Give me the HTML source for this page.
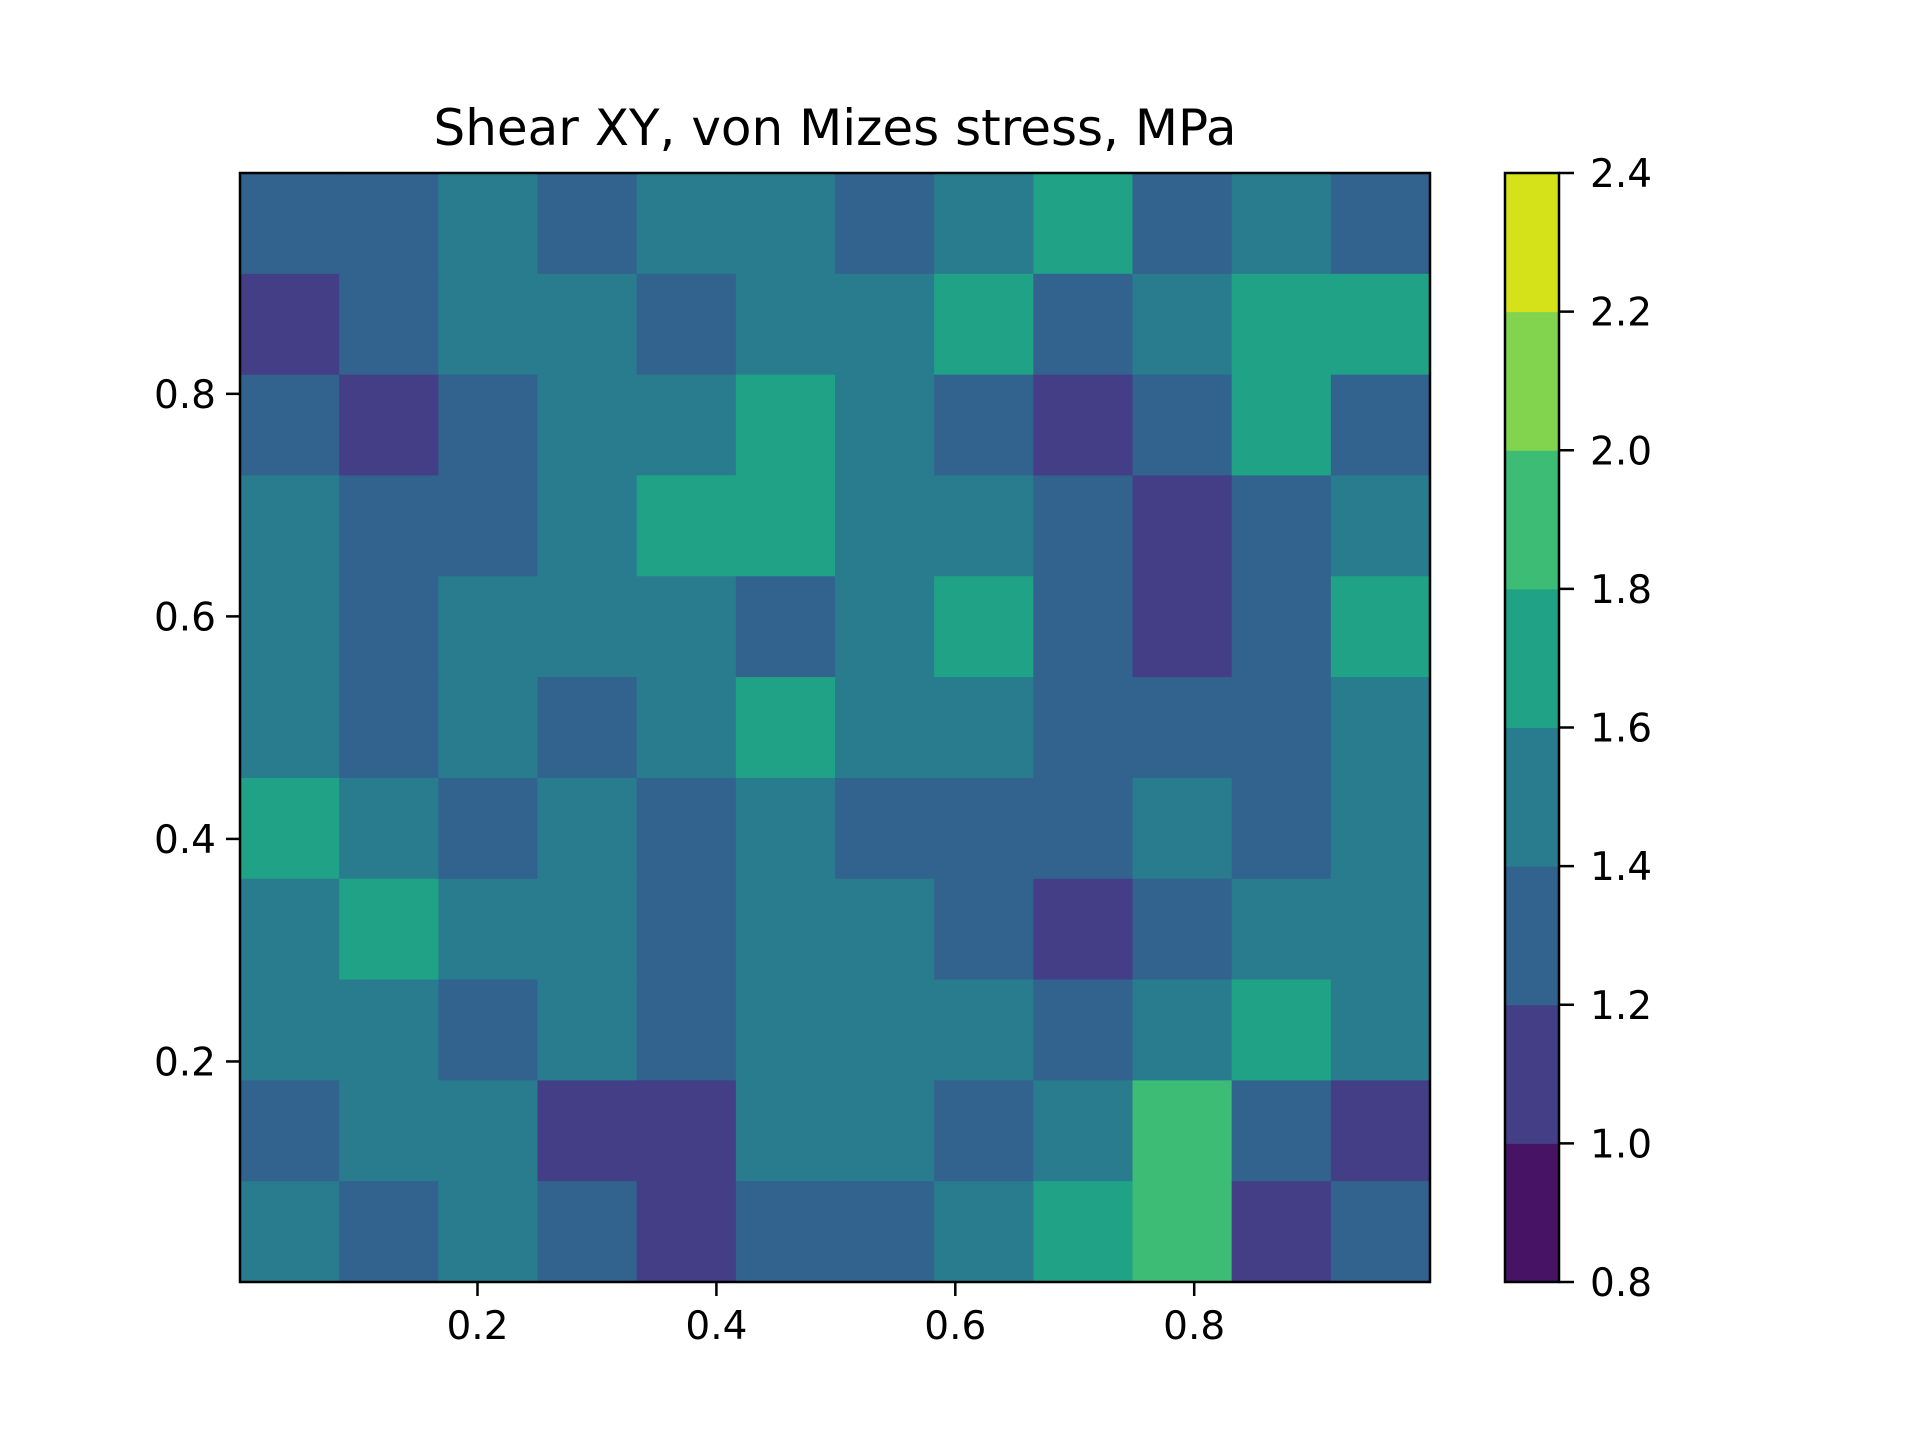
<!DOCTYPE html>
<html><head><meta charset="utf-8"><style>
body{margin:0;background:#fff;}
svg{display:block;font-family:"DejaVu Sans","Liberation Sans",sans-serif;}
</style></head><body>
<svg id="chart" width="1920" height="1440" viewBox="0 0 1920 1440" xmlns="http://www.w3.org/2000/svg">
<rect width="1920" height="1440" fill="#fff"/>
<text x="835" y="145" font-size="50" text-anchor="middle">Shear XY, von Mizes stress, MPa</text>
<g id="field"></g>
<rect x="240" y="173" width="1190" height="1109" fill="none" stroke="#000" stroke-width="2.5"/>
<g id="xticks"></g><g id="yticks"></g>
<g id="cbar"></g>
</svg>
<script>
const levels=[0.8,1.0,1.2,1.4,1.6,1.8,2.0,2.2,2.4];
const bandColors=["#471365","#433e85","#31638e","#287c8e","#20a286","#3cbc74","#82d34d","#d5e21a"];
const xTicks=[0.2,0.4,0.6,0.8];
const yTicks=[0.2,0.4,0.6,0.8];
const cbarTicks=["0.8","1.0","1.2","1.4","1.6","1.8","2.0","2.2","2.4"];
// field values (rows top->bottom, y from 1 to 0), stress in MPa
const fieldRows=[
[1.3,1.3,1.5,1.3,1.5,1.5,1.3,1.5,1.7,1.3,1.5,1.3],
[1.1,1.3,1.5,1.5,1.3,1.5,1.5,1.7,1.3,1.5,1.7,1.7],
[1.3,1.1,1.3,1.5,1.5,1.7,1.5,1.3,1.1,1.3,1.7,1.3],
[1.5,1.3,1.3,1.5,1.7,1.7,1.5,1.5,1.3,1.1,1.3,1.5],
[1.5,1.3,1.5,1.5,1.5,1.3,1.5,1.7,1.3,1.1,1.3,1.7],
[1.5,1.3,1.5,1.3,1.5,1.7,1.5,1.5,1.3,1.3,1.3,1.5],
[1.7,1.5,1.3,1.5,1.3,1.5,1.3,1.3,1.3,1.5,1.3,1.5],
[1.5,1.7,1.5,1.5,1.3,1.5,1.5,1.3,1.1,1.3,1.5,1.5],
[1.5,1.5,1.3,1.5,1.3,1.5,1.5,1.5,1.3,1.5,1.7,1.5],
[1.3,1.5,1.5,1.1,1.1,1.5,1.5,1.3,1.5,1.9,1.3,1.1],
[1.5,1.3,1.5,1.3,1.1,1.3,1.3,1.5,1.7,1.9,1.1,1.3]
];
const NS="http://www.w3.org/2000/svg";
const X0=240,X1=1430,Y0=173,Y1=1282;
function xs(v){return 238.6+v*1194.5;}
function ys(v){return 1284-v*1112.7;}
function cb(v){return 1282-(v-0.8)/1.6*1109;}
function colorFor(v){for(let i=0;i<bandColors.length;i++){if(v<levels[i+1])return bandColors[i];}return bandColors[bandColors.length-1];}
const field=document.getElementById('field');
const nr=fieldRows.length,nc=fieldRows[0].length;
fieldRows.forEach((row,r)=>row.forEach((v,c)=>{
 const el=document.createElementNS(NS,'rect');
 
 
 const x=X0+(X1-X0)*c/nc,y=Y0+(Y1-Y0)*r/nr;
 el.setAttribute('x',x);el.setAttribute('y',y);
 el.setAttribute('width',(X1-X0)/nc+0.5);el.setAttribute('height',(Y1-Y0)/nr+0.5);
 el.setAttribute('fill',colorFor(v));
 field.appendChild(el);
}));
const xt=document.getElementById('xticks');
xTicks.forEach(t=>{
 const l=document.createElementNS(NS,'line');
 
 
 l.setAttribute('x1',xs(t));l.setAttribute('x2',xs(t));l.setAttribute('y1',Y1);l.setAttribute('y2',Y1+14);
 l.setAttribute('stroke','#000');l.setAttribute('stroke-width','2.5');xt.appendChild(l);
 const tx=document.createElementNS(NS,'text');
 
 
 tx.setAttribute('x',xs(t));tx.setAttribute('y',Y1+57);tx.setAttribute('font-size','39');tx.setAttribute('text-anchor','middle');
 tx.textContent=t.toFixed(1);xt.appendChild(tx);
});
const yt=document.getElementById('yticks');
yTicks.forEach(t=>{
 const l=document.createElementNS(NS,'line');
 
 
 l.setAttribute('x1',X0-14);l.setAttribute('x2',X0);l.setAttribute('y1',ys(t));l.setAttribute('y2',ys(t));
 l.setAttribute('stroke','#000');l.setAttribute('stroke-width','2.5');yt.appendChild(l);
 const tx=document.createElementNS(NS,'text');
 
 
 tx.setAttribute('x',X0-24);tx.setAttribute('y',ys(t)+14);tx.setAttribute('font-size','39');tx.setAttribute('text-anchor','end');
 tx.textContent=t.toFixed(1);yt.appendChild(tx);
});
const cbg=document.getElementById('cbar');
bandColors.forEach((c,i)=>{
 const r=document.createElementNS(NS,'rect');
 
 
 r.setAttribute('x',1505);r.setAttribute('y',cb(levels[i+1]));r.setAttribute('width',54);r.setAttribute('height',cb(levels[i])-cb(levels[i+1])+0.5);
 r.setAttribute('fill',c);cbg.appendChild(r);
});
const fr=document.createElementNS(NS,'rect');


fr.setAttribute('x',1505);fr.setAttribute('y',173);fr.setAttribute('width',54);fr.setAttribute('height',1109);
fr.setAttribute('fill','none');fr.setAttribute('stroke','#000');fr.setAttribute('stroke-width','2.5');cbg.appendChild(fr);
cbarTicks.forEach(s=>{
 const v=parseFloat(s);
 const l=document.createElementNS(NS,'line');
 
 
 l.setAttribute('x1',1559);l.setAttribute('x2',1574);l.setAttribute('y1',cb(v));l.setAttribute('y2',cb(v));
 l.setAttribute('stroke','#000');l.setAttribute('stroke-width','2.5');cbg.appendChild(l);
 const tx=document.createElementNS(NS,'text');
 
 
 tx.setAttribute('x',1590);tx.setAttribute('y',cb(v)+14);tx.setAttribute('font-size','39');
 tx.textContent=s;cbg.appendChild(tx);
});
</script>
</body></html>
